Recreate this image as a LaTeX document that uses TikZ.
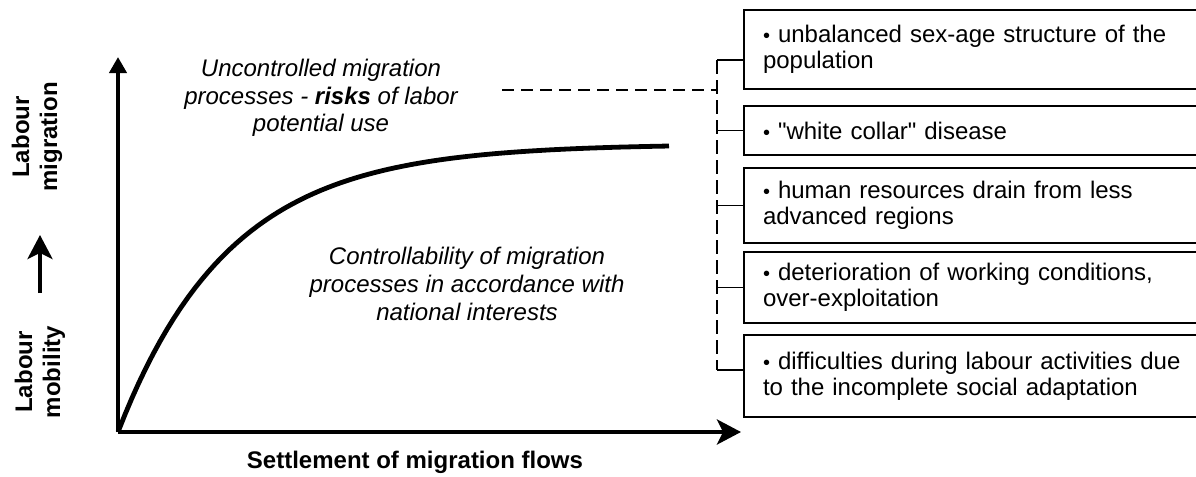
\documentclass[tikz,border=0pt]{standalone}
\usepackage{fontspec}
\setmainfont[Ligatures=TeXOff]{Liberation Sans}
\usetikzlibrary{arrows.meta}
\newcommand\riskdot{{\fontsize{10}{10}\selectfont •}}
\tikzset{
  axis line/.style={
    line width=2pt,
  },
  curve line/.style={
    line width=2.4pt,
  },
  axis label/.style={
    align=center,
    font=\fontsize{12}{14}\selectfont\bfseries
  },
  note/.style={
    align=center,
    font=\fontsize{12}{13.8}\selectfont\itshape
  },
  risk box/.style={
    draw,
    line width=1pt,
    anchor=west,
    align=left,
    text width=250pt,
    inner xsep=9.5pt,
    font=\fontsize{12}{13}\selectfont
  },
  bus/.style={line width=0.75pt, dash pattern=on 7pt off 3pt},
  tick/.style={line width=0.6pt},
}

\begin{document}
\begin{tikzpicture}[x=0.5pt,y=-0.5pt]
\clip (0,0) rectangle (1196,477);
\coordinate (O) at (118,432);
\coordinate (ytop) at (118,57);
\coordinate (xend) at (741,432);
\draw [axis line,-{Triangle[length=8pt,width=8.5pt]}] (O) -- (ytop);
\draw [axis line,-{Stealth[length=12pt,width=12.5pt,inset=3pt]}] (O) -- (xend);
\draw [curve line] plot [domain=118:669,samples=80]
  (\x,{432-288*(1-exp(-0.009*(\x-118)))});

\node (migr) at (37,137) [axis label,rotate=90] {Labour\\migration};
\node (mobil) at (40,372) [axis label,rotate=90] {Labour\\mobility};
\node (flows) at (415,462) [axis label] {Settlement of migration flows};
\coordinate (flow low) at (40,293);
\coordinate (flow high) at (40,235);
\draw [line width=1.75pt,-{Stealth[length=12pt,width=12.5pt,inset=3pt]}] (flow low) -- (flow high);

\node (risks) at (321,98) [note] {Uncontrolled migration\\processes - \textbf{risks} of labor\\potential use};
\node (control) at (467,284) [note] {Controllability of migration\\processes in accordance with\\national interests};

\node (b1) at (743,49.5) [risk box,minimum height=39.5pt] {\riskdot\ unbalanced sex-age structure of the\\population};
\node (b2) at (743,130.5) [risk box,minimum height=24.5pt] {\riskdot\ "white collar" disease};
\node (b3) at (743,205.5) [risk box,minimum height=37.5pt] {\riskdot\ human resources drain from less\\advanced regions};
\node (b4) at (743,287.5) [risk box,minimum height=35.5pt] {\riskdot\ deterioration of working conditions,\\over-exploitation};
\node (b5) at (743,376) [risk box,minimum height=41pt] {\riskdot\ difficulties during labour activities due\\to the incomplete social adaptation};

\coordinate (bus top) at (717,60);
\coordinate (bus bottom) at (717,370);
\coordinate (risk tail) at (502,90);
\draw [bus] (bus top) -- (bus bottom);
\draw [bus,dash pattern=on 6pt off 3.5pt] (risk tail) -- (risk tail -| bus top);
\draw [tick] (bus top) -- (bus top -| b1.west);
\draw [tick] (b2.west -| bus top) -- (b2.west);
\draw [tick] (b3.west -| bus top) -- (b3.west);
\draw [tick] (b4.west -| bus top) -- (b4.west);
\draw [tick] (bus bottom) -- (bus bottom -| b5.west);
\end{tikzpicture}
\end{document}
